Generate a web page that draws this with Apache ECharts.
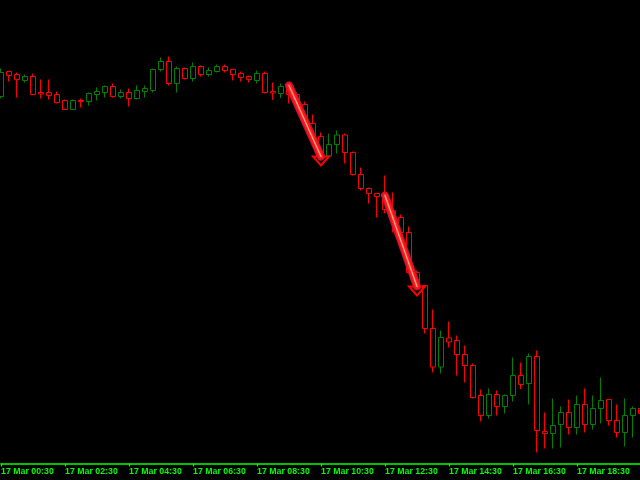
<!DOCTYPE html>
<html>
<head>
<meta charset="utf-8">
<script src="https://cdn.jsdelivr.net/npm/echarts@6/dist/echarts.min.js"></script>
<style>
html,body{margin:0;padding:0;background:#000;}
#chart{width:640px;height:480px;}
</style>
</head>
<body>
<div id="chart"></div>
<script>
// 15-minute candles, 17 Mar, starting 00:30
const startMinutes = 30;
const stepMinutes = 15;
const candleCount = 81;
const categories = [];
for (let i = 0; i < candleCount; i++) {
  const m = startMinutes + i * stepMinutes;
  const hh = String(Math.floor(m / 60)).padStart(2, '0');
  const mm = String(m % 60).padStart(2, '0');
  categories.push('17 Mar ' + hh + ':' + mm);
}

// price values (arbitrary points)
const openV  = [367,392,389,383,387,371,371,369,363,354,363,362,369,371,377,367,371,365,372,373,394,402,380,395,385,397,389,392,397,394,390,387,383,390,372,370,378,369,359,340,327,307.5,319,328.5,311,289,275,270,268,253,246,231,191,178,135,96.5,125.5,123,109,98,68,48,69,57,68,88,80,107,32,30,39,51,36,59,39,55,64,43,31,48,55];
const closeV = [391,388,384,387,369,369.5,368,361,354,363,362,370,372,377,367,371,365,373,375,394,402,380,395,385,397,389,393,397,393,389,386,384,390,371,370.5,377,369,359,345,328,309,319,328.5,311,289,275,270,267,254,248,231,191,177,135,96.5,126,121.5,109,98,66,48,69,57,68,88,79,107,33,30,38,51,36,59,39,55,63,43,31,48,55,50];
const lowV   = [365,382,366,381,369,365,364,360,353.5,353.5,356,358,363,366,366,365,357,364,366,371,392,378,371,384,382,387,387,391,391,383,382,381,380,370,363.5,365.5,360,357,337,325,306,306,310,300,288,273,260,246,250,231,228,191,176,130,91,90,116,88,81,65,42,45,48,50,62,74.5,59,11,15,15,16,29,29,31,34,40,38,26,17,26,48];
const highV  = [395,392,391,389,390,384,384,372,364,364,365,371,376,378,380,374,375,378,378,395,406,407,397,396,401,398,396,399,399,394,392,388,393,392,381,380,379,371,362,349,331,330,333,330,312,296,276,270,288,271,249,237,193,178,154,133,142,128,118,100,74,75,73,69,106,101,110,113,51,65,57,64,68,75,68,86,64,59,65,57,57];

// arrow annotations: [startIndex, startValue, endIndex, endValue]
const arrows = [
  [36, 378, 40, 307],
  [48, 268, 52, 177]
];

const candleData = [];
for (let i = 0; i < candleCount; i++) {
  candleData.push([openV[i], closeV[i], lowV[i], highV[i]]);
}

const chart = echarts.init(document.getElementById('chart'), null, {renderer: 'canvas'});
chart.setOption({
  backgroundColor: '#000000',
  animation: false,
  grid: {left: 1, top: 0.5, width: 640, height: 463, containLabel: false, outerBoundsMode: 'none'},
  xAxis: {
    type: 'category',
    data: categories,
    boundaryGap: false,
    axisLine: {show: true, lineStyle: {color: '#00ff00', width: 1.6, opacity: 1}},
    axisTick: {show: true, length: 3, interval: function (idx) { return idx % 8 === 0; }, lineStyle: {color: '#00ff00', width: 1.2, opacity: 1}},
    axisLabel: {
      show: true,
      interval: function (idx) { return idx % 8 === 0; },
      showMinLabel: true,
      hideOverlap: false,
      align: 'left',
      color: '#00ff00',
      fontFamily: 'Liberation Sans',
      fontWeight: 'bold',
      fontSize: 8.8,
      margin: 4
    },
    splitLine: {show: false}
  },
  yAxis: {
    type: 'value',
    min: 0,
    max: 463,
    show: false,
    splitLine: {show: false}
  },
  series: [
    {
      type: 'candlestick',
      data: candleData,
      barWidth: 5,
      itemStyle: {
        color: '#000000',
        color0: '#000000',
        borderColor: '#008000',
        borderColor0: '#ff0000',
        borderWidth: 1
      }
    },
    {
      type: 'custom',
      data: arrows,
      encode: {x: [0, 2], y: [1, 3]},
      z: 10,
      renderItem: function (params, api) {
        const p0 = api.coord([api.value(0), api.value(1)]);
        const p1 = api.coord([api.value(2), api.value(3)]);
        const shape = {x1: p0[0], y1: p0[1], x2: p1[0], y2: p1[1]};
        return {
          type: 'group',
          children: [
            {type: 'polygon', shape: {points: [[p1[0] - 8, p1[1]], [p1[0] + 8, p1[1]], [p1[0], p1[1] + 9]]},
              style: {fill: 'none', stroke: '#ff0000', lineWidth: 2}},
            {type: 'line', shape: shape, style: {stroke: '#d01030', lineWidth: 8, lineCap: 'round'}},
            {type: 'line', shape: shape, style: {stroke: '#ff1a1a', lineWidth: 5, lineCap: 'round'}},
            {type: 'line', shape: shape, style: {stroke: '#ffa080', lineWidth: 1.4, lineCap: 'round'}}
          ]
        };
      }
    }
  ]
});
</script>
</body>
</html>
